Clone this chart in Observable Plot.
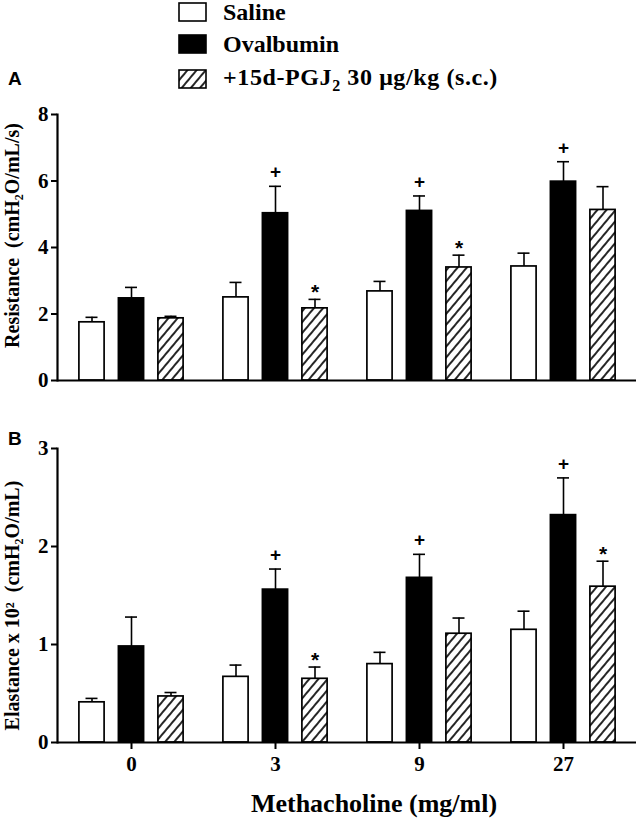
<!DOCTYPE html>
<html><head><meta charset="utf-8">
<script src="https://cdn.jsdelivr.net/npm/d3@7"></script>
<script src="https://cdn.jsdelivr.net/npm/@observablehq/plot@0.6"></script>
<style>
body{margin:0;background:#fff;width:641px;height:819px;position:relative;overflow:hidden;font-family:"Liberation Serif","Times New Roman",serif;color:#000;}
#legend{position:absolute;left:0;top:0;width:641px;height:100px;z-index:2}
.row{position:absolute;left:178px;height:20px;display:flex;align-items:center;font-weight:bold;font-size:24px;white-space:nowrap;}
.row svg{margin-right:16px;flex:none}
.plab{position:absolute;left:8px;font-family:"Liberation Sans",Arial,sans-serif;font-weight:bold;font-size:19px;line-height:1;z-index:3}
#a{position:absolute;left:0;top:100px;z-index:1}
#b{position:absolute;left:0;top:400px;z-index:1}
</style></head>
<body>
<svg width="0" height="0" style="position:absolute">
<defs><pattern id="hatch" patternUnits="userSpaceOnUse" width="7" height="7" patternTransform="rotate(40)">
<rect width="7" height="7" fill="white"/><line x1="1" y1="-1" x2="1" y2="8" stroke="black" stroke-width="1.7"/></pattern></defs></svg>
<div id="legend"></div>
<div class="plab" style="top:69px">A</div>
<div class="plab" style="top:429px">B</div>
<div id="a"></div>
<div id="b"></div>
<script>
// ---- data ----
const doses = ["0", "3", "9", "27"];
const seriesNames = ["Saline", "Ovalbumin", "+15d-PGJ2 30 μg/kg (s.c.)"];
const seriesFills = ["white", "black", "url(#hatch)"];

const resSaline = [1.75, 2.50, 2.68, 3.43];
const resSalineErr = [0.15, 0.45, 0.30, 0.40];
const resOva = [2.47, 5.03, 5.10, 5.98];
const resOvaErr = [0.33, 0.81, 0.45, 0.60];
const resPgj = [1.87, 2.17, 3.40, 5.13];
const resPgjErr = [0.06, 0.27, 0.37, 0.70];
const resSig = [["", "", "", ""], ["", "+", "+", "+"], ["", "*", "*", ""]];
const resTicks = [0, 2, 4, 6, 8];

const elaSaline = [0.41, 0.67, 0.80, 1.15];
const elaSalineErr = [0.04, 0.12, 0.12, 0.19];
const elaOva = [0.98, 1.56, 1.68, 2.32];
const elaOvaErr = [0.30, 0.21, 0.24, 0.38];
const elaPgj = [0.47, 0.65, 1.11, 1.59];
const elaPgjErr = [0.04, 0.12, 0.16, 0.26];
const elaSig = [["", "", "", ""], ["", "+", "+", "+"], ["", "*", "", "*"]];
const elaTicks = [0, 1, 2, 3];

// ---- legend ----
const legend = document.getElementById("legend");
const rowTops = [2, 34, 69];
seriesNames.forEach((name, i) => {
  const row = document.createElement("div");
  row.className = "row";
  row.style.top = rowTops[i] + "px";
  if (i === 2) row.style.letterSpacing = "0.6px";
  const label = i === 2 ? "+15d-PGJ<sub style=\"font-size:16px;vertical-align:-6px\">2</sub> 30 μg/kg (s.c.)" : name;
  row.innerHTML = `<svg width="29" height="20"><rect x="1" y="1" width="27" height="18" fill="${seriesFills[i]}" stroke="black" stroke-width="1.6"/></svg><span>${label}</span>`;
  legend.appendChild(row);
});

const offsets = [-39.5, 0, 39.5];
const font = "Liberation Serif, Times New Roman, serif";

function panel({vals, errs, sig, ticks, yMax, height, marginTop, marginBottom, xAxis, ylabel, labelDy}) {
  const marks = [];
  vals.forEach((v, s) => {
    const rows = doses.map((d, i) => ({dose: d, value: v[i], hi: v[i] + errs[s][i], sig: sig[s][i]}));
    marks.push(Plot.ruleX(rows, {x: "dose", y1: "value", y2: "hi", dx: offsets[s], stroke: "black", strokeWidth: 1.6}));
    marks.push(Plot.tickY(rows, {x: "dose", y: "hi", dx: offsets[s], insetLeft: 66, insetRight: 66, stroke: "black", strokeWidth: 1.6}));
    marks.push(Plot.barY(rows, {x: "dose", y: "value", dx: offsets[s], insetLeft: 59.4, insetRight: 59.4, fill: seriesFills[s], stroke: "black", strokeWidth: 1.7}));
    const sigRows = rows.filter(r => r.sig);
    marks.push(Plot.text(sigRows, {x: "dose", y: "hi", text: "sig", dx: offsets[s], dy: s === 1 ? -14 : -7,
      fontFamily: "Liberation Sans, Arial, sans-serif", fontWeight: "bold", fontSize: s === 1 ? 19 : 21, fill: "black"}));
  });
  marks.push(Plot.ruleY([0], {stroke: "black", strokeWidth: 2.2}));
  marks.push(Plot.frame({anchor: "left", stroke: "black", strokeWidth: 2.2}));
  marks.push(Plot.axisY({ticks, tickFormat: d => String(d), tickSize: 6, tickPadding: 3, fontSize: 21, fontWeight: "bold", fontFamily: font, strokeWidth: 2, label: null}));
  if (xAxis) {
    marks.push(Plot.axisX({tickSize: 7, tickPadding: 7, fontSize: 21, fontWeight: "bold", fontFamily: font, strokeWidth: 2, label: null}));
    marks.push(Plot.text(["Methacholine (mg/ml)"], {frameAnchor: "bottom", lineAnchor: "middle", textAnchor: "middle", dy: 61, dx: 27, fontSize: 26, fontWeight: "bold", fontFamily: font, fill: "black"}));
  }
  marks.push(Plot.text([ylabel], {frameAnchor: "left", textAnchor: "middle", lineAnchor: "middle", dx: -45, dy: labelDy, rotate: -90, fontSize: 20, fontWeight: "bold", fontFamily: font, fill: "black"}));
  return Plot.plot({
    width: 641, height, marginTop, marginBottom, marginLeft: 57, marginRight: 5,
    style: {fontFamily: font, color: "black", background: "transparent", overflow: "visible"},
    x: {domain: doses, padding: 0, axis: null},
    y: {domain: [0, yMax], axis: null},
    marks
  });
}

document.getElementById("a").appendChild(panel({
  vals: [resSaline, resOva, resPgj], errs: [resSalineErr, resOvaErr, resPgjErr], sig: resSig,
  ticks: resTicks, yMax: 8, height: 300, marginTop: 14, marginBottom: 20, xAxis: false,
  ylabel: "Resistance  (cmH₂O/mL/s)", labelDy: -12
}));
document.getElementById("b").appendChild(panel({
  vals: [elaSaline, elaOva, elaPgj], errs: [elaSalineErr, elaOvaErr, elaPgjErr], sig: elaSig,
  ticks: elaTicks, yMax: 3, height: 419, marginTop: 48, marginBottom: 77, xAxis: true,
  ylabel: "Elastance x 10²  (cmH₂O/mL)", labelDy: 10
}));
</script>
</body></html>
